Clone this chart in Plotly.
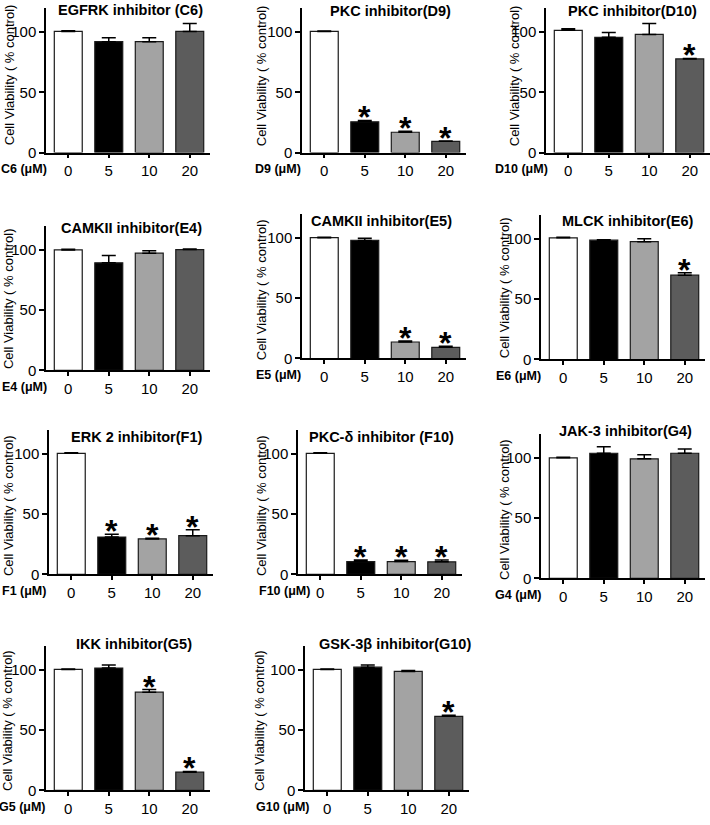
import plotly.graph_objects as go

W, H = 710, 825

doses = ["0", "5", "10", "20"]
bar_colors = ["#ffffff", "#000000", "#a3a3a3", "#5c5c5c"]

titles = [
    "EGFRK inhibitor (C6)", "PKC inhibitor(D9)", "PKC inhibitor(D10)",
    "CAMKII inhibitor(E4)", "CAMKII inhibitor(E5)", "MLCK inhibitor(E6)",
    "ERK 2 inhibitor(F1)", "PKC-δ inhibitor (F10)", "JAK-3 inhibitor(G4)",
    "IKK inhibitor(G5)", "GSK-3β inhibitor(G10)",
]
dose_labels = [
    "C6 (μM)", "D9 (μM)", "D10 (μM)", "E4 (μM)", "E5 (μM)", "E6 (μM)",
    "F1 (μM)", "F10 (μM)", "G4 (μM)", "G5 (μM)", "G10 (μM)",
]

c6_mean = [100.5, 92.0, 92.0, 100.5]
c6_err = [0.5, 3.3, 3.3, 6.5]
c6_sig = [False, False, False, False]

d9_mean = [100.5, 25.5, 16.8, 9.3]
d9_err = [0.4, 1.1, 0.8, 0.3]
d9_sig = [False, True, True, True]

d10_mean = [101.4, 95.6, 98.0, 77.7]
d10_err = [1.3, 3.9, 9.0, 0.4]
d10_sig = [False, False, False, True]

e4_mean = [100.0, 89.3, 97.3, 100.3]
e4_err = [0.5, 6.0, 1.9, 0.4]
e4_sig = [False, False, False, False]

e5_mean = [100.3, 98.0, 13.7, 9.3]
e5_err = [0.4, 1.7, 0.9, 0.9]
e5_sig = [False, False, True, True]

e6_mean = [101.0, 99.0, 97.8, 70.0]
e6_err = [0.4, 0.4, 2.5, 2.0]
e6_sig = [False, False, False, True]

f1_mean = [100.5, 31.0, 29.4, 32.1]
f1_err = [0.4, 2.2, 0.6, 4.9]
f1_sig = [False, True, True, True]

f10_mean = [100.5, 10.6, 10.6, 10.4]
f10_err = [0.4, 1.4, 1.1, 1.6]
f10_sig = [False, True, True, True]

g4_mean = [100.0, 103.8, 99.2, 103.8]
g4_err = [0.5, 5.5, 3.3, 3.6]
g4_sig = [False, False, False, False]

g5_mean = [100.3, 101.4, 81.4, 15.0]
g5_err = [0.4, 2.6, 2.2, 0.6]
g5_sig = [False, False, True, True]

g10_mean = [100.3, 102.2, 98.6, 61.4]
g10_err = [0.4, 1.8, 0.9, 0.8]
g10_sig = [False, False, False, True]

means = [c6_mean, d9_mean, d10_mean, e4_mean, e5_mean, e6_mean,
         f1_mean, f10_mean, g4_mean, g5_mean, g10_mean]
errs = [c6_err, d9_err, d10_err, e4_err, e5_err, e6_err,
        f1_err, f10_err, g4_err, g5_err, g10_err]
sigs = [c6_sig, d9_sig, d10_sig, e4_sig, e5_sig, e6_sig,
        f1_sig, f10_sig, g4_sig, g5_sig, g10_sig]

# layout geometry in pixels: axis-left x, baseline y, title (x,y), y-title (x,y), dose label right x
geom = [
    (46, 154, 130, 10, 9, 76, 49),
    (302, 154, 390, 11, 261, 77, 303),
    (546, 154, 632, 11, 514, 77, 550),
    (46, 374, 131, 230, 8, 302, 49),
    (302, 362, 382, 223, 261, 293, 303),
    (541, 363, 627, 223, 504, 291, 543),
    (49, 580, 136, 441, 8, 511, 48),
    (298, 580, 382, 441, 261, 511, 312),
    (541, 584, 625, 435, 504, 515, 544),
    (46, 798, 134, 650, 8, 728, 48),
    (305, 798, 395, 650, 260, 728, 312),
]

FONT = "Arial, Liberation Sans, Helvetica, sans-serif"
AX_W = 164
AX_H = 146
Y_MAX = 120

def fx(px):
    return px / W

def fy(py):
    return 1 - py / H

fig = go.Figure()
annotations = []
layout = {}

for i in range(len(titles)):
    n = "" if i == 0 else str(i + 1)
    xl, yb, tx, ty, ytx, yty, lx = geom[i]
    fig.add_trace(go.Bar(
        x=doses, y=means[i],
        xaxis="x" + n, yaxis="y" + n,
        width=0.69,
        marker=dict(color=bar_colors, line=dict(color="#1a1a1a", width=1.2)),
        error_y=dict(type="data", array=errs[i], arrayminus=[0] * 4,
                     symmetric=False, color="#000000", thickness=1.5, width=7),
        showlegend=False, hoverinfo="skip",
    ))
    for j in range(len(doses)):
        if sigs[i][j]:
            annotations.append(dict(
                x=j, y=means[i][j] + errs[i][j], xref="x" + n, yref="y" + n,
                text="<b>*</b>", showarrow=False, yanchor="middle", yshift=3,
                font=dict(family=FONT, size=32, color="#000000"),
            ))
    layout["xaxis" + n] = dict(
        domain=[fx(xl), fx(xl + AX_W)], anchor="y" + n,
        type="category", range=[-0.55, 3.5],
        showline=True, linecolor="#000000", linewidth=1.5,
        ticks="outside", ticklen=4, tickwidth=1.5, tickcolor="#000000",
        tickfont=dict(family=FONT, size=15, color="#000000"),
        showgrid=False, zeroline=False, fixedrange=True,
    )
    layout["yaxis" + n] = dict(
        domain=[fy(yb), fy(yb - AX_H)], anchor="x" + n,
        range=[0, Y_MAX], tickvals=[0, 50, 100],
        showline=True, linecolor="#000000", linewidth=1.5,
        ticks="outside", ticklen=5, tickwidth=1.5, tickcolor="#000000",
        tickfont=dict(family=FONT, size=15, color="#000000"),
        showgrid=False, zeroline=False, fixedrange=True,
    )
    annotations.append(dict(
        x=fx(tx), y=fy(ty), xref="paper", yref="paper",
        text="<b>" + titles[i] + "</b>", showarrow=False,
        xanchor="center", yanchor="middle",
        font=dict(family=FONT, size=14.5, color="#000000"),
    ))
    annotations.append(dict(
        x=fx(ytx), y=fy(yty), xref="paper", yref="paper",
        text="Cell Viability ( % control)", showarrow=False, textangle=-90,
        xanchor="center", yanchor="middle",
        font=dict(family=FONT, size=13, color="#000000"),
    ))
    annotations.append(dict(
        x=fx(lx), y=fy(yb + 17), xref="paper", yref="paper",
        text="<b>" + dose_labels[i] + "</b>", showarrow=False,
        xanchor="right", yanchor="middle",
        font=dict(family=FONT, size=12.5, color="#000000"),
    ))

fig.update_layout(
    width=W, height=H,
    margin=dict(l=0, r=0, t=0, b=0),
    paper_bgcolor="#ffffff", plot_bgcolor="#ffffff",
    annotations=annotations,
    **layout,
)

fig.write_html(
    "out.html",
    config={"displayModeBar": False},
    post_script="document.body.style.margin='0';document.body.style.overflow='hidden';",
)
